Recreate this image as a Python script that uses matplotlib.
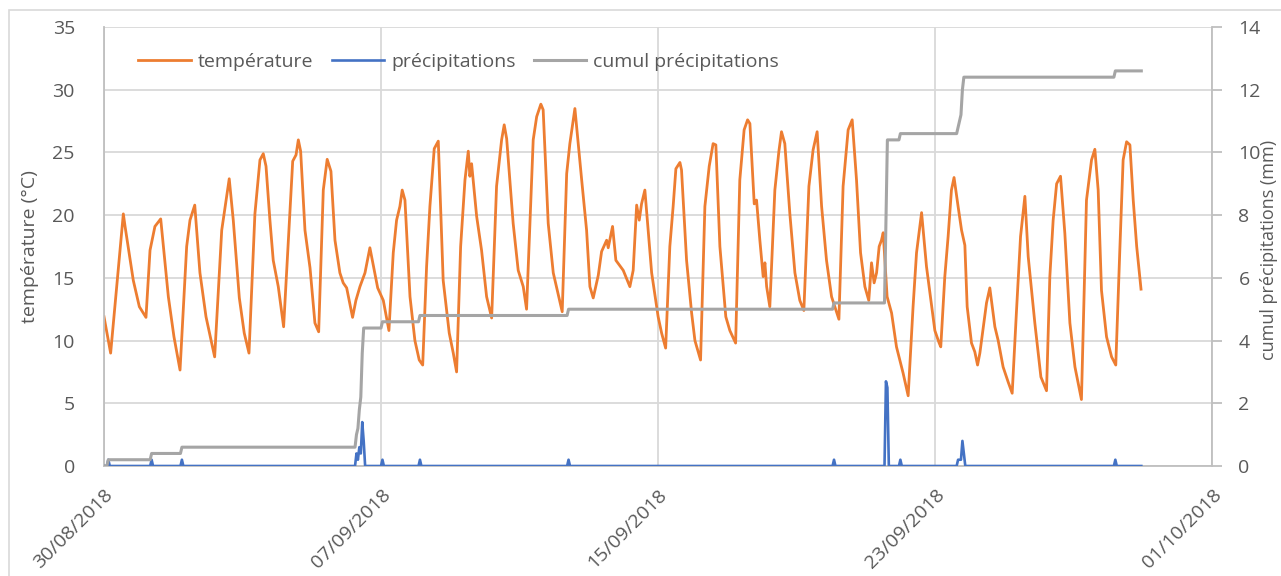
import numpy as np
import pandas as pd
import matplotlib
matplotlib.use("Agg")
import matplotlib.pyplot as plt
import matplotlib.dates as mdates
from matplotlib.patches import Rectangle

plt.rcParams['font.family'] = ['Open Sans', 'DejaVu Sans']

# temperature: hours since 30/08/2018 00:00 and value in deg C
temp_hours = [0, 4.6, 13.4, 14.6, 20.3, 24.5, 29.1, 31.9, 35.3, 39.3, 44.6, 48.5, 52.7,
              57.3, 59.6, 62.9, 66.5, 70.7, 76.7, 81.6, 86.8, 89.6, 93.8, 97.2, 100.5,
              104.6, 108.1, 110.4, 112.3, 115.0, 117.3, 120.8, 124.5, 127.3, 130.8, 133.1,
              134.7, 136.3, 139.3, 142.8, 146.2, 148.8, 152.0, 154.7, 157.3, 160.1, 163.5,
              165.8, 168.2, 172.3, 174.6, 177.4, 180.9, 184.3, 189.7, 193.6, 197.5, 200.5,
              202.8, 205.1, 206.7, 208.6, 212.1, 215.5, 218.5, 220.9, 223.6, 225.9, 228.9,
              231.7, 235.1, 239.3, 242.1, 244.4, 247.2, 250.2, 252.5, 253.6, 254.8, 258.3,
              261.7, 265.2, 268.7, 272.1, 275.6, 277.4, 279.1, 283.6, 287.1, 290.6, 292.9,
              297.5, 299.9, 302.8, 304.4, 307.9, 311.4, 317.6, 320.7, 322.9, 326.4, 331.1,
              334.5, 336.8, 339.1, 342.6, 344.9, 348.4, 349.5, 352.5, 354.8, 359.9, 364.5,
              366.8, 369.2, 371.0, 372.6, 374.9, 379.6, 384.1, 386.5, 389.3, 392.2, 394.5,
              396.4, 399.2, 400.3, 403.8, 407.3, 409.6, 413.5, 416.5, 419.5, 422.2, 424.1,
              426.9, 431.0, 433.8, 437.8, 440.7, 443.7, 446.1, 447.7, 450.7, 452.3, 454.6,
              456.9, 458.1, 459.3, 461.5, 465.0, 467.8, 469.6, 471.9, 475.4, 478.9, 482.3,
              485.1, 488.6, 491.5, 494.3, 497.4, 500.8, 504.3, 509.4, 512.3, 515.8, 518.6,
              521.6, 524.4, 527.4, 530.1, 532.0, 533.8, 535.5, 537.3, 538.9, 540.1, 542.8,
              545.9, 549.3, 553.9, 557.4, 560.8, 563.2, 566.7, 570.1, 575.9, 578.9, 580.0,
              582.8, 585.1, 587.4, 589.2, 592.0, 594.4, 596.7, 598.3, 601.3, 603.6, 605.5,
              607.1, 611.7, 614.0, 617.5, 619.8, 623.2, 626.7, 629.5, 632.5, 635.3, 638.3,
              640.6, 645.2, 649.4, 653.3, 655.6, 657.9, 660.3, 663.0, 666.0, 669.5, 673.0,
              677.5, 681.0, 684.5, 686.8, 689.1, 691.4, 694.9, 698.4, 701.3, 704.1, 706.4,
              708.8, 711.1, 713.4, 715.8, 718.8]
temp_values = [11.9, 9.0, 20.1, 19.1, 14.8, 12.7, 11.85, 17.2, 19.1, 19.7, 13.5, 10.3, 7.65,
               17.5, 19.6, 20.8, 15.4, 11.9, 8.7, 18.8, 22.9, 19.6, 13.4, 10.6, 9.0,
               20.1, 24.4, 24.9, 23.9, 19.6, 16.4, 14.3, 11.1, 17.0, 24.3, 24.8,
               26.0, 25.1, 18.8, 15.8, 11.4, 10.7, 22.0, 24.45, 23.5, 18.0, 15.4,
               14.6, 14.2, 11.85, 13.2, 14.3, 15.4, 17.4, 14.2, 13.2, 10.8, 17.0,
               19.6, 20.7, 22.0, 21.2, 13.5, 10.0, 8.45, 8.05, 15.9, 20.7, 25.3,
               25.9, 14.8, 10.6, 9.0, 7.5, 17.5, 22.8, 25.1, 23.1, 24.1, 19.9,
               17.2, 13.5, 11.8, 22.3, 26.0, 27.2, 26.1, 19.35, 15.6, 14.3, 12.5,
               26.0, 27.85, 28.85, 28.4, 19.35, 15.4, 12.3, 23.3, 25.7, 28.5, 22.8,
               18.8, 14.3, 13.4, 15.2, 17.1, 18.0, 17.4, 19.1, 16.4, 15.6, 14.3,
               15.6, 20.8, 19.6, 20.9, 22.0, 15.4, 11.9, 10.6, 9.4, 17.5, 20.7,
               23.7, 24.2, 23.6, 16.4, 12.2, 10.0, 8.45, 20.7, 23.9, 25.7, 25.6,
               17.5, 11.9, 10.8, 9.8, 22.8, 26.8, 27.6, 27.3, 20.9, 21.2, 18.0,
               15.1, 16.2, 14.3, 12.7, 22.0, 25.1, 26.65, 25.7, 20.1, 15.4, 13.2,
               12.4, 22.3, 25.2, 26.65, 20.7, 16.4, 13.5, 11.7, 22.3, 26.8, 27.6,
               22.8, 17.0, 14.3, 13.2, 16.2, 14.6, 15.4, 17.5, 18.0, 18.6, 13.5,
               12.2, 9.5, 7.4, 5.6, 12.7, 17.0, 20.2, 15.9, 10.8, 9.8, 9.5,
               15.1, 18.3, 22.0, 23.0, 20.7, 18.8, 17.6, 12.7, 9.8, 9.1, 8.05,
               9.0, 13.0, 14.2, 11.1, 10.0, 7.9, 6.7, 5.8, 12.4, 18.3, 21.5,
               16.7, 11.4, 7.1, 6.0, 15.1, 19.6, 22.5, 23.1, 18.55, 11.4, 7.9,
               5.3, 21.2, 24.4, 25.25, 22.0, 14.0, 10.3, 8.7, 8.05, 17.2, 24.4,
               25.85, 25.6, 21.2, 17.5, 14.1]

# hourly rain (mm): hours with a non-zero reading
rain_hours = [3, 33, 54, 175, 176, 177, 178, 179, 180, 193, 219, 322, 506,
              542, 543, 552, 592, 593, 594, 595, 596, 701]
rain_mm = [0.2, 0.2, 0.2, 0.4, 0.2, 0.6, 0.4, 1.4, 0.8, 0.2, 0.2, 0.2, 0.2,
           2.7, 2.5, 0.2, 0.2, 0.2, 0.2, 0.8, 0.4, 0.2]
n_hours = 720

x_ticks = ['2018-08-30', '2018-09-07', '2018-09-15', '2018-09-23', '2018-10-01']

start = pd.Timestamp('2018-08-30')
hourly = pd.date_range(start, periods=n_hours, freq='h')
rain = np.zeros(n_hours)
rain[rain_hours] = rain_mm
cumul = np.cumsum(rain)
t_temp = start + pd.to_timedelta(temp_hours, unit='h')

ORANGE = '#ED7D31'
BLUE = '#4472C4'
GREY = '#A5A5A5'
TXT = '#595959'
GRID = '#D9D9D9'

fig = plt.figure(figsize=(12.81, 5.76), dpi=100)
ax = fig.add_axes([104 / 1281, 1 - 466 / 576, (1212 - 104) / 1281, (466 - 27) / 576])

# outer chart border
fig.patches.append(Rectangle((9 / 1281, -0.1), 1.2, 1 - 10 / 576 + 0.1,
                             transform=fig.transFigure, fill=False,
                             edgecolor=GRID, lw=1.2))

l1, = ax.plot(t_temp, temp_values, color=ORANGE, lw=2.0, solid_joinstyle='round',
              label='température')
ax.set_ylim(0, 35)
ax.set_yticks(range(0, 36, 5))
ax.set_xlim(pd.Timestamp(x_ticks[0]), pd.Timestamp(x_ticks[-1]))
ax.set_xticks(pd.to_datetime(x_ticks))
ax.xaxis.set_major_formatter(mdates.DateFormatter('%d/%m/%Y'))
ax.grid(True, color=GRID, lw=1.3)
ax.set_axisbelow(True)
for s in ['top', 'right']:
    ax.spines[s].set_visible(False)
for s in ['left', 'bottom']:
    ax.spines[s].set_color('#BFBFBF')
    ax.spines[s].set_linewidth(1.3)
ax.tick_params(axis='y', length=0, pad=21, labelsize=14, labelcolor=TXT)
ax.tick_params(axis='x', length=0, pad=14, labelsize=14, labelcolor=TXT)
for lab in ax.get_xticklabels():
    lab.set_rotation(45)
    lab.set_ha('right')
    lab.set_rotation_mode('anchor')

ax2 = ax.twinx()
l2, = ax2.plot(hourly, rain, color=BLUE, lw=1.9, label='précipitations')
l3, = ax2.plot(hourly, cumul, color=GREY, lw=2.2, label='cumul précipitations')
ax2.set_ylim(0, 14)
ax2.set_yticks(range(0, 15, 2))
for s in ['top', 'left', 'bottom']:
    ax2.spines[s].set_visible(False)
ax2.spines['right'].set_color('#BFBFBF')
ax2.spines['right'].set_linewidth(1.3)
ax2.tick_params(axis='y', length=7, width=1.3, color='#BFBFBF', pad=12,
                labelsize=14, labelcolor=TXT)

fig.text(30 / 1281, 1 - 247 / 576, 'température (°C)', rotation=90,
         ha='center', va='center', fontsize=14, color=TXT)
fig.text(1269.5 / 1281, 1 - 250 / 576, 'cumul précipitations (mm)', rotation=90,
         ha='center', va='center', fontsize=13, color=TXT)

ax.legend(handles=[l1, l2, l3], loc='center left', bbox_to_anchor=(0.031, 0.92),
          ncol=3, frameon=False, fontsize=14, handlelength=2.7, handletextpad=0.35,
          columnspacing=0.95, borderpad=0, borderaxespad=0, labelcolor=TXT)

fig.savefig('out.png', dpi=100)
